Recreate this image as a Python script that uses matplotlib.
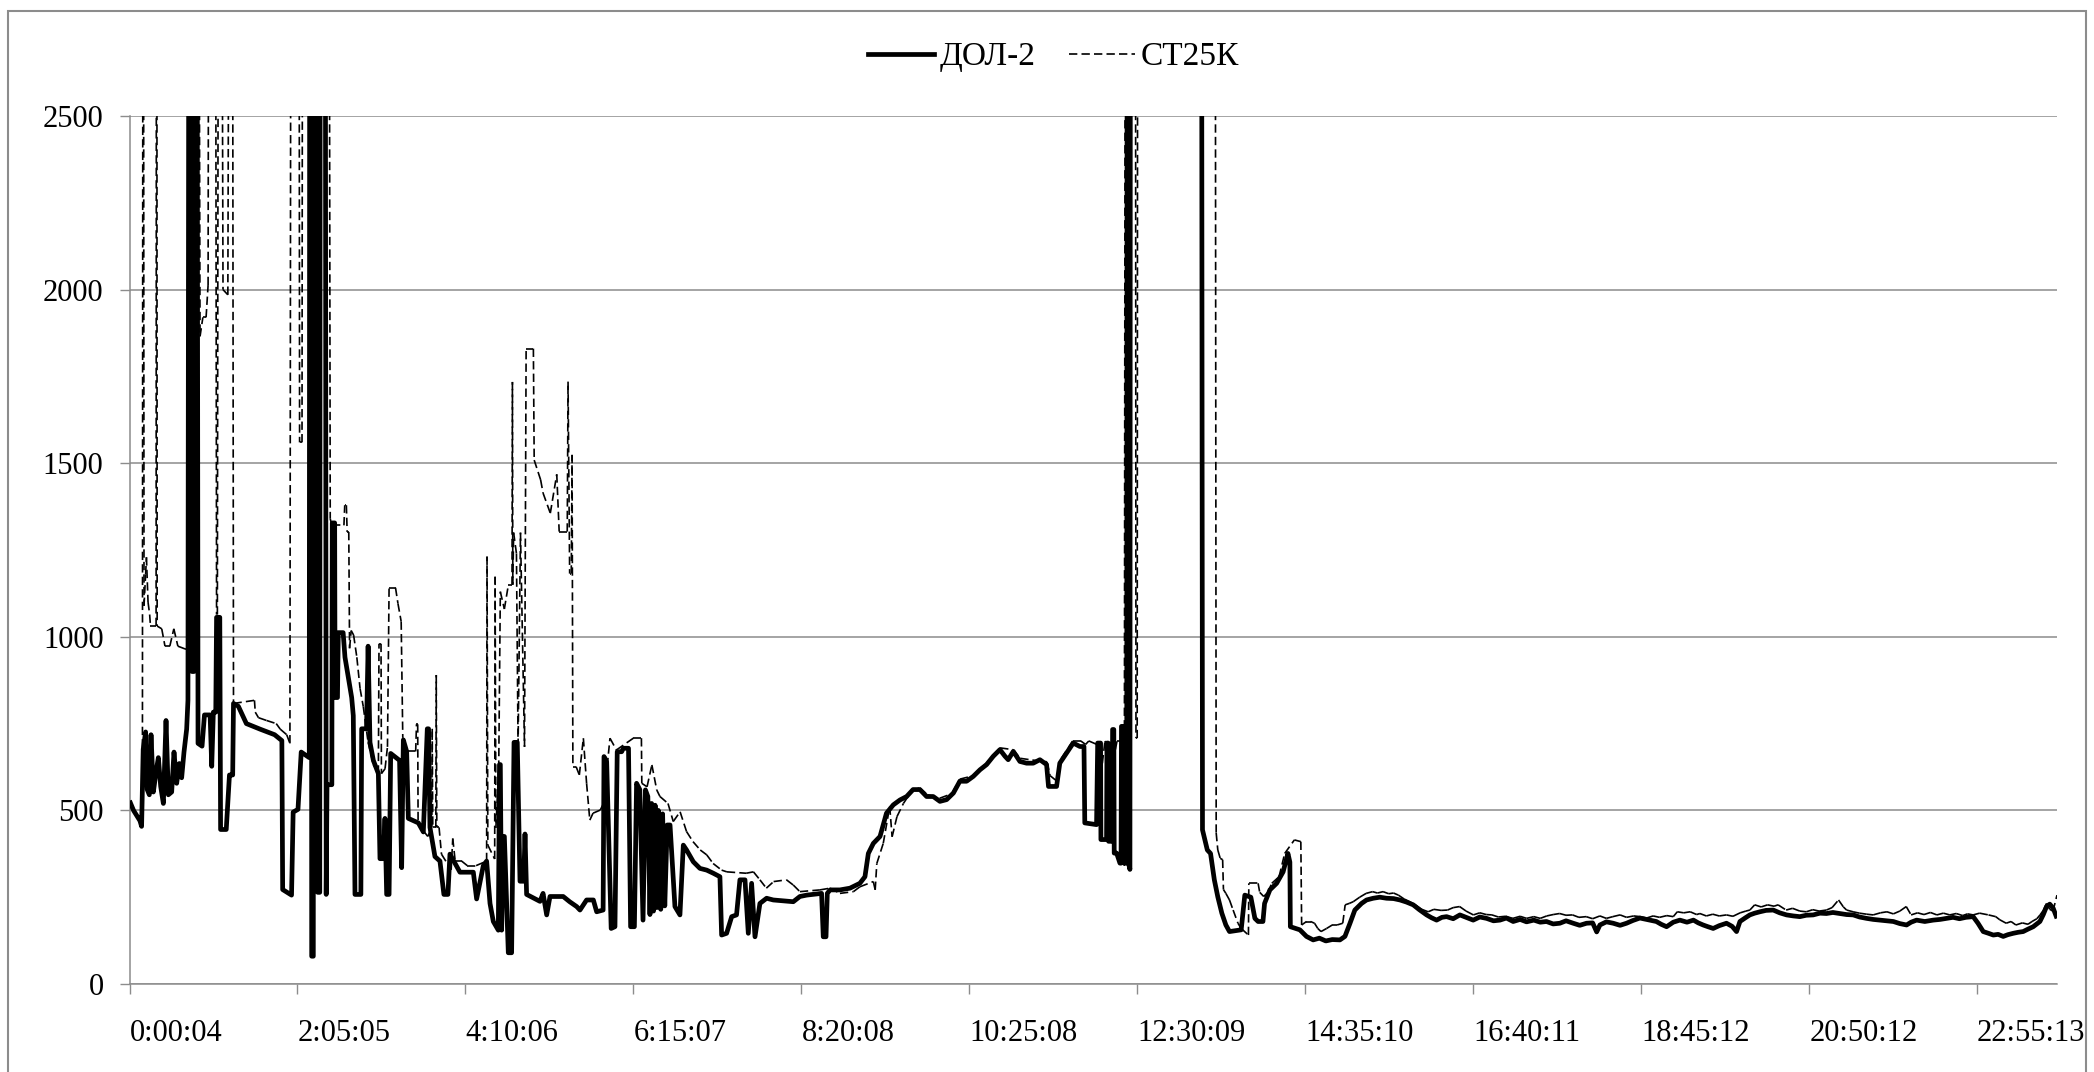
import matplotlib
matplotlib.use("Agg")
import matplotlib.pyplot as plt
from matplotlib.collections import LineCollection
from matplotlib.lines import Line2D
from matplotlib.patches import Rectangle
import numpy as np

plt.rcParams['font.family'] = ['Liberation Serif', 'DejaVu Serif']

series_names = ["ДОЛ-2", "СТ25К"]
tick_labels = ["0:00:04", "2:05:05", "4:10:06", "6:15:07", "8:20:08", "10:25:08",
               "12:30:09", "14:35:10", "16:40:11", "18:45:12", "20:50:12", "22:55:13"]
y_ticks = [0, 500, 1000, 1500, 2000, 2500]

# ДОЛ-2: hours since 0:00:04, reading
dol_t = [0.00, 0.05, 0.13, 0.15, 0.17, 0.20, 0.22, 0.246, 0.267, 0.296, 0.329, 0.358, 0.387,
         0.42, 0.453, 0.482, 0.523, 0.552, 0.585, 0.618, 0.647, 0.676, 0.709, 0.725, 0.735,
         0.77, 0.775, 0.80, 0.805, 0.84, 0.85, 0.90, 0.93, 1.00, 1.02, 1.04, 1.07, 1.08, 1.12,
         1.13, 1.20, 1.24, 1.28, 1.29, 1.35, 1.45, 1.62, 1.80, 1.89, 1.90, 2.01, 2.03, 2.09,
         2.13, 2.23, 2.235, 2.255, 2.26, 2.28, 2.285, 2.33, 2.335, 2.36, 2.365, 2.43, 2.44,
         2.45, 2.51, 2.515, 2.545, 2.55, 2.58, 2.59, 2.65, 2.673, 2.756, 2.776, 2.797, 2.87,
         2.88, 2.94, 2.96, 2.983, 3.025, 3.087, 3.107, 3.149, 3.169, 3.19, 3.22, 3.24, 3.35,
         3.376, 3.397, 3.438, 3.459, 3.583, 3.645, 3.694, 3.71, 3.727, 3.789, 3.851, 3.90,
         3.95, 3.975, 4.099, 4.265, 4.306, 4.389, 4.43, 4.472, 4.513, 4.575, 4.59, 4.60,
         4.616, 4.637, 4.65, 4.699, 4.74, 4.77, 4.81, 4.844, 4.89, 4.906, 4.926, 5.092,
         5.13, 5.175, 5.216, 5.38, 5.46, 5.547, 5.588, 5.67, 5.754, 5.795, 5.875, 5.886,
         5.919, 5.975, 6.022, 6.05, 6.105, 6.126, 6.19, 6.216, 6.263, 6.29, 6.33, 6.37, 6.40,
         6.43, 6.456, 6.477, 6.50, 6.52, 6.54, 6.56, 6.59, 6.613, 6.64, 6.67, 6.705, 6.766,
         6.828, 6.87, 6.91, 6.994, 7.076, 7.16, 7.242, 7.324, 7.345, 7.407, 7.47, 7.53,
         7.572, 7.635, 7.676, 7.717, 7.759, 7.82, 7.903, 7.986, 8.234, 8.316, 8.40, 8.585,
         8.606, 8.64, 8.656, 8.69, 8.813, 8.937, 9.06, 9.123, 9.165, 9.227, 9.31, 9.39,
         9.475, 9.557, 9.64, 9.72, 9.805, 9.888, 9.97, 10.053, 10.136, 10.22, 10.30, 10.384,
         10.467, 10.55, 10.632, 10.715, 10.797, 10.86, 10.90, 10.963, 11.045, 11.128, 11.21,
         11.293, 11.376, 11.40, 11.50, 11.54, 11.624, 11.707, 11.79, 11.84, 11.85, 11.996,
         12.01, 12.046, 12.05, 12.12, 12.125, 12.14, 12.145, 12.19, 12.195, 12.21, 12.215,
         12.245, 12.286, 12.30, 12.305, 12.34, 12.345, 12.37, 12.375, 12.395, 12.40, 12.41,
         12.415, 13.30, 13.31, 13.37, 13.41, 13.457, 13.50, 13.55, 13.60, 13.645, 13.79,
         13.835, 13.91, 13.96, 14.00, 14.06, 14.08, 14.146, 14.23, 14.31, 14.37, 14.394,
         14.40, 14.518, 14.60, 14.683, 14.76, 14.84, 14.92, 15.015, 15.077, 15.14, 15.20,
         15.283, 15.345, 15.428, 15.51, 15.593, 15.68, 15.76, 15.84, 15.924, 16.00, 16.09,
         16.15, 16.214, 16.28, 16.338, 16.42, 16.503, 16.58, 16.668, 16.75, 16.834, 16.92,
         17.00, 17.08, 17.164, 17.25, 17.33, 17.42, 17.50, 17.577, 17.66, 17.743, 17.82,
         17.909, 17.99, 18.074, 18.15, 18.20, 18.24, 18.32, 18.405, 18.49, 18.57, 18.65,
         18.736, 18.82, 18.94, 19.00, 19.067, 19.15, 19.232, 19.32, 19.40, 19.46, 19.52,
         19.58, 19.645, 19.72, 19.81, 19.88, 19.935, 19.977, 20.04, 20.10, 20.16, 20.225,
         20.30, 20.39, 20.47, 20.555, 20.64, 20.72, 20.80, 20.886, 20.97, 21.05, 21.13,
         21.217, 21.30, 21.382, 21.46, 21.548, 21.63, 21.713, 21.80, 21.88, 21.96, 22.044,
         22.10, 22.168, 22.27, 22.374, 22.46, 22.54, 22.62, 22.70, 22.78, 22.87, 22.93,
         22.995, 23.06, 23.12, 23.18, 23.243, 23.30, 23.367, 23.43, 23.49, 23.55, 23.615,
         23.698, 23.74, 23.78, 23.82, 23.863, 23.91]
dol_v = [528, 500, 470, 454, 676, 726, 560, 545, 718, 553, 610, 652, 569,
         520, 759, 545, 553, 668, 578, 635, 594, 668, 734, 817, 2800,
         2800, 900, 900, 2800, 2800, 693, 685, 775, 775, 627, 783, 783, 1056, 1056,
         445, 445, 602, 602, 808, 800, 750, 734, 718, 701, 272, 256, 495, 503,
         668, 652, 2800, 2800, 80, 80, 2800, 2800, 264, 264, 2800, 2800, 258,
         574, 574, 1328, 1328, 825, 825, 1012, 1012, 941, 825, 773, 258, 258,
         735, 735, 973, 696, 644, 606, 361, 361, 477, 258, 258, 664, 644,
         335, 703, 670, 477, 464, 438, 735, 735, 451, 367, 354, 258,
         258, 374, 322, 322, 245, 341, 354, 232, 180, 155, 632, 632,
         155, 425, 425, 90, 90, 696, 696, 296, 296, 432, 258, 238,
         261, 199, 252, 252, 237, 223, 213, 242, 242, 208, 213, 655,
         640, 160, 165, 669, 669, 679, 679, 165, 165, 578, 560, 184, 559,
         540, 200, 520, 210, 515, 220, 500, 215, 490, 225, 458, 458, 223,
         199, 400, 386, 352, 333, 328, 319, 309, 141, 146, 194, 199,
         300, 300, 146, 290, 136, 232, 247, 242, 237, 252, 256, 261,
         136, 136, 261, 271, 271, 276, 290, 309, 376, 405, 425, 492,
         516, 530, 540, 560, 560, 540, 540, 526, 531, 550, 584, 584,
         598, 617, 632, 656, 675, 656, 646, 670, 641, 636, 636,
         646, 632, 569, 569, 636, 665, 694, 684, 684, 464, 459,
         694, 694, 416, 416, 694, 694, 411, 411, 733, 733, 377,
         377, 348, 348, 742, 742, 348, 348, 2800, 2800, 340, 330,
         2800, 2800, 444, 386, 376, 300, 251, 204, 170, 151, 156,
         256, 250, 189, 180, 180, 232, 271, 290, 323, 376, 351,
         165, 156, 137, 127, 132, 124, 128, 127, 137, 175, 213,
         232, 242, 247, 250, 247, 246, 242, 236, 228, 214, 199,
         191, 184, 192, 194, 188, 199, 192, 184, 193, 189, 182,
         184, 190, 180, 186, 179, 184, 178, 180, 173, 175, 182,
         175, 169, 175, 176, 150, 170, 179, 175, 169, 175, 183,
         190, 186, 180, 172, 165, 178, 184, 178, 184, 176, 170,
         165, 160, 168, 175, 166, 151, 180, 190, 199, 204, 208,
         212, 213, 205, 199, 196, 194, 198, 199, 204, 203, 206,
         203, 200, 199, 193, 189, 186, 184, 182, 180, 174, 170,
         178, 184, 180, 184, 186, 189, 192, 188, 192, 194, 175,
         151, 146, 141, 143, 137, 142, 146, 149, 151, 158, 165,
         180, 200, 223, 230, 218, 189]

# СТ25К: hours since 0:00:04, reading
st_t = [0.00, 0.10, 0.16, 0.165, 0.175, 0.18, 0.20, 0.21, 0.23, 0.25, 0.26, 0.33, 0.333,
        0.34, 0.343, 0.40, 0.44, 0.50, 0.55, 0.60, 0.69, 0.72, 0.725, 0.865, 0.875, 0.91,
        0.95, 0.975, 0.98, 1.07, 1.08, 1.09, 1.10, 1.15, 1.16, 1.22, 1.23, 1.28, 1.29, 1.55,
        1.56, 1.60, 1.70, 1.82, 1.87, 1.95, 1.99, 2.00, 2.105, 2.11, 2.14, 2.145, 2.48,
        2.49, 2.51, 2.66, 2.67, 2.69, 2.70, 2.72, 2.73, 2.75, 2.78, 2.82, 2.86, 2.90, 2.96,
        3.025, 3.087, 3.095, 3.12, 3.125, 3.17, 3.20, 3.22, 3.30, 3.33, 3.37, 3.39, 3.44,
        3.55, 3.56, 3.575, 3.58, 3.65, 3.70, 3.75, 3.755, 3.762, 3.80, 3.805, 3.812, 3.84,
        3.87, 3.99, 4.01, 4.04, 4.12, 4.19, 4.30, 4.43, 4.435, 4.445, 4.53, 4.535, 4.545,
        4.58, 4.60, 4.65, 4.70, 4.745, 4.75, 4.755, 4.765, 4.80, 4.82, 4.85, 4.90, 4.92,
        5.01, 5.02, 5.10, 5.13, 5.22, 5.30, 5.33, 5.43, 5.44, 5.46, 5.48, 5.49, 5.50, 5.54,
        5.58, 5.63, 5.67, 5.71, 5.75, 5.84, 5.88, 5.96, 6.04, 6.25, 6.35, 6.355, 6.42, 6.48,
        6.54, 6.58, 6.68, 6.745, 6.83, 6.91, 6.99, 7.08, 7.16, 7.24, 7.345, 7.41, 7.65,
        7.74, 7.82, 7.90, 7.99, 8.15, 8.234, 8.316, 8.564, 8.69, 8.813, 8.98, 9.06, 9.227,
        9.25, 9.27, 9.35, 9.43, 9.46, 9.52, 9.60, 9.70, 9.80, 9.90, 10.05, 10.20, 10.30,
        10.47, 10.63, 10.80, 10.96, 11.05, 11.20, 11.38, 11.42, 11.50, 11.56, 11.70, 11.80,
        11.86, 11.90, 12.00, 12.05, 12.10, 12.20, 12.25, 12.30, 12.34, 12.35, 12.40, 12.405,
        12.415, 12.48, 12.485, 12.50, 12.505, 13.47, 13.48, 13.50, 13.53, 13.56, 13.57,
        13.60, 13.645, 13.69, 13.75, 13.79, 13.88, 13.885, 14.00, 14.02, 14.07, 14.12, 14.17,
        14.26, 14.33, 14.45, 14.53, 14.54, 14.60, 14.65, 14.70, 14.74, 14.78, 14.85, 14.92,
        14.98, 15.05, 15.08, 15.13, 15.18, 15.26, 15.34, 15.42, 15.48, 15.55, 15.62, 15.68,
        15.74, 15.81, 15.88, 15.95, 16.03, 16.11, 16.18, 16.27, 16.35, 16.42, 16.50, 16.58,
        16.67, 16.75, 16.83, 16.90, 16.98, 17.07, 17.16, 17.25, 17.33, 17.42, 17.50, 17.58,
        17.66, 17.74, 17.82, 17.90, 17.98, 18.07, 18.15, 18.24, 18.32, 18.40, 18.49, 18.57,
        18.66, 18.74, 18.82, 18.90, 18.98, 19.07, 19.15, 19.20, 19.28, 19.36, 19.44, 19.48,
        19.56, 19.64, 19.72, 19.81, 19.89, 19.98, 20.05, 20.10, 20.16, 20.24, 20.32, 20.40,
        20.45, 20.55, 20.63, 20.72, 20.80, 20.88, 20.96, 21.05, 21.12, 21.20, 21.26, 21.30,
        21.38, 21.46, 21.55, 21.63, 21.72, 21.80, 21.88, 21.96, 22.04, 22.10, 22.18, 22.26,
        22.34, 22.42, 22.50, 22.58, 22.66, 22.74, 22.80, 22.87, 22.95, 23.06, 23.15, 23.20,
        23.28, 23.34, 23.40, 23.48, 23.55, 23.60, 23.66, 23.70, 23.74, 23.78, 23.82, 23.86,
        23.91]
st_v = [520, 480, 465, 2800, 2800, 1089, 1180, 1229, 1100, 1064, 1031, 1031, 2800,
        2800, 1031, 1023, 973, 973, 1023, 973, 965, 965, 2800, 2800, 1865, 1920,
        1920, 2013, 2800, 2800, 1064, 1064, 2800, 2800, 2000, 1985, 2800, 2800, 808, 817,
        783, 767, 759, 750, 734, 718, 693, 2800, 2800, 1560, 1560, 2800, 2800,
        1340, 1321, 1321, 1379, 1379, 1302, 1302, 967, 1018, 1005, 941, 851, 799, 696,
        632, 606, 980, 980, 606, 620, 683, 1141, 1141, 1096, 1044, 709, 670,
        670, 748, 748, 464, 440, 425, 451, 735, 451, 451, 890, 451, 451,
        374, 329, 419, 354, 354, 341, 341, 354, 1231, 400, 360, 1173, 450,
        620, 1130, 1080, 1150, 1150, 1734, 1150, 1300, 1240, 683, 1300, 683, 1830,
        1830, 1509, 1452, 1414, 1356, 1468, 1303, 1303, 1735, 1182, 1182, 1524, 626, 626,
        602, 708, 578, 472, 492, 501, 520, 708, 674, 708, 708, 578, 568, 631,
        559, 540, 520, 468, 496, 439, 410, 386, 372, 347, 328, 323, 319,
        323, 300, 276, 295, 300, 285, 266, 271, 276, 261, 266, 280, 295,
        271, 347, 405, 511, 424, 482, 520, 555, 565, 545, 535, 548, 590,
        600, 636, 680, 675, 650, 645, 640, 600, 585, 650, 700, 700,
        690, 700, 690, 600, 700, 640, 700, 700, 340, 2800, 2800, 329,
        2800, 2800, 708, 708, 2800, 2800, 435, 386, 362, 358, 272,
        261, 242, 213, 175, 160, 141, 290, 290, 264, 252, 264, 290,
        309, 376, 415, 410, 170, 180, 180, 175, 160, 151, 160, 170,
        170, 175, 228, 232, 237, 250, 261, 266, 262, 266, 260, 262,
        256, 245, 237, 228, 215, 208, 215, 212, 213, 220, 223, 210,
        199, 205, 200, 199, 193, 195, 189, 195, 189, 194, 189, 196,
        200, 203, 198, 199, 192, 194, 188, 196, 189, 194, 199, 192,
        196, 194, 190, 196, 192, 197, 194, 208, 205, 208, 200, 203,
        196, 201, 196, 199, 195, 205, 210, 213, 228, 222, 228, 224,
        228, 213, 218, 210, 208, 214, 210, 213, 220, 242, 222, 213,
        208, 204, 201, 199, 205, 208, 202, 210, 223, 199, 205, 200,
        206, 199, 204, 199, 203, 197, 202, 199, 204, 199, 194, 185,
        175, 180, 170, 176, 172, 180, 188, 199, 212, 232, 215, 210,
        256]

W, H = 2094, 1072
GRID = '#8c8c8c'
FS = 22
LEGEND_FS = 24

fig = plt.figure(figsize=(W / 100, H / 100), dpi=100)
ax = fig.add_axes([129.5 / W, 1 - 984 / H, (2057 - 129.5) / W, (984 - 116) / H])


def to_hours(label):
    h, m, s = (int(p) for p in label.split(":"))
    return (h * 3600 + m * 60 + s - 4) / 3600.0


tick_pos = [to_hours(lbl) for lbl in tick_labels]

# thick solid series
ax.plot(dol_t, dol_v, color='black', lw=3.4, solid_joinstyle='round',
        solid_capstyle='butt', zorder=3)

# thin dashed series: each segment carries its own dash pattern
pts = np.column_stack([st_t, st_v])
segs = np.stack([pts[:-1], pts[1:]], axis=1)
dash = (0, (5, 2.5))
lc = LineCollection(segs, colors='black', linewidths=1.2, linestyles=[dash], zorder=4)
ax.add_collection(lc)

ax.set_xlim(0, 23.91)
ax.set_ylim(0, 2500)
ax.set_yticks(y_ticks)
ax.set_yticklabels([str(v) for v in y_ticks])
ax.set_xticks(tick_pos)
ax.set_xticklabels(tick_labels)
for lbl in ax.get_xticklabels():
    lbl.set_horizontalalignment('left')

ax.yaxis.grid(True, color=GRID, lw=1.1)
ax.set_axisbelow(True)
for side in ('top', 'right'):
    ax.spines[side].set_visible(False)
for side in ('left', 'bottom'):
    ax.spines[side].set_color(GRID)
    ax.spines[side].set_linewidth(1.1)

ax.tick_params(axis='x', direction='out', length=7.2, width=1, color=GRID,
               labelsize=FS, pad=18)
ax.tick_params(axis='y', direction='out', length=7.2, width=1, color=GRID,
               labelsize=FS, pad=11.5)

handles = [Line2D([], [], color='black', lw=3.4),
           Line2D([], [], color='black', lw=1.2, linestyle=dash)]
fig.legend(handles, series_names, loc='center', bbox_to_anchor=(0.503, 1 - 57 / H),
           ncol=2, frameon=False, fontsize=LEGEND_FS, handlelength=2.0,
           handletextpad=0.15, columnspacing=1.0)

# outer chart frame
fig.patches.append(Rectangle((8 / W, -0.05), (2086 - 8) / W, 1 - 11 / H + 0.05,
                             transform=fig.transFigure, fill=False,
                             edgecolor='#8c8c8c', lw=1.5))

fig.savefig('out.png', dpi=100)
